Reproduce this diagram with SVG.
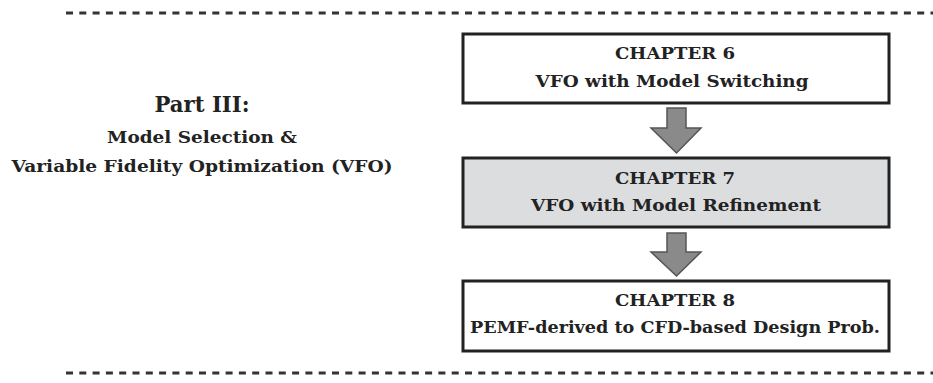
<svg xmlns="http://www.w3.org/2000/svg" width="933" height="383" viewBox="0 0 933 383">
<style>
.box{stroke:#222;stroke-width:3}
.t{font-family:"DejaVu Serif","Liberation Serif",serif;font-weight:bold;fill:#222;text-anchor:middle}
.ch{font-size:16.8px}
.dash{stroke:#333;stroke-width:3;stroke-dasharray:7 6.3;fill:none}
.arr{fill:#8a8a8a;stroke:#555;stroke-width:1.5;stroke-linejoin:miter}
</style>
<rect width="933" height="383" fill="#fff"/>
<g id="separators">
<line class="dash" x1="66" y1="13" x2="933" y2="13"/>
<line class="dash" x1="66" y1="373" x2="933" y2="373"/>
</g>
<g id="part3">
<text class="t" x="202" y="112" font-size="22" textLength="95" lengthAdjust="spacingAndGlyphs">Part III:</text>
<text class="t" x="202" y="143" font-size="17" textLength="190" lengthAdjust="spacingAndGlyphs">Model Selection &amp;</text>
<text class="t" x="202" y="172" font-size="17" textLength="381" lengthAdjust="spacingAndGlyphs">Variable Fidelity Optimization (VFO)</text>
</g>
<g id="ch6">
<rect class="box" x="463" y="34" width="426" height="69" fill="#fff"/>
<text class="t ch" x="675" y="59" textLength="120" lengthAdjust="spacingAndGlyphs">CHAPTER 6</text>
<text class="t ch" x="672" y="87" textLength="273" lengthAdjust="spacingAndGlyphs">VFO with Model Switching</text>
</g>
<g id="ch7">
<rect class="box" x="463" y="158" width="426" height="69" fill="#dcdddf"/>
<text class="t ch" x="675" y="184" textLength="120" lengthAdjust="spacingAndGlyphs">CHAPTER 7</text>
<text class="t ch" x="676" y="211" textLength="290" lengthAdjust="spacingAndGlyphs">VFO with Model Refinement</text>
</g>
<g id="ch8">
<rect class="box" x="463" y="281" width="426" height="70" fill="#fff"/>
<text class="t ch" x="675" y="306" textLength="120" lengthAdjust="spacingAndGlyphs">CHAPTER 8</text>
<text class="t ch" x="675" y="333" textLength="410" lengthAdjust="spacingAndGlyphs">PEMF-derived to CFD-based Design Prob.</text>
</g>
<g id="connectors">
<path class="arr" d="M667 108 H686 V128 H701 L676.5 153 L651 128 H667 Z"/>
<path class="arr" d="M667 233 H686 V252 H701 L676.5 276 L651 252 H667 Z"/>
</g>
</svg>
